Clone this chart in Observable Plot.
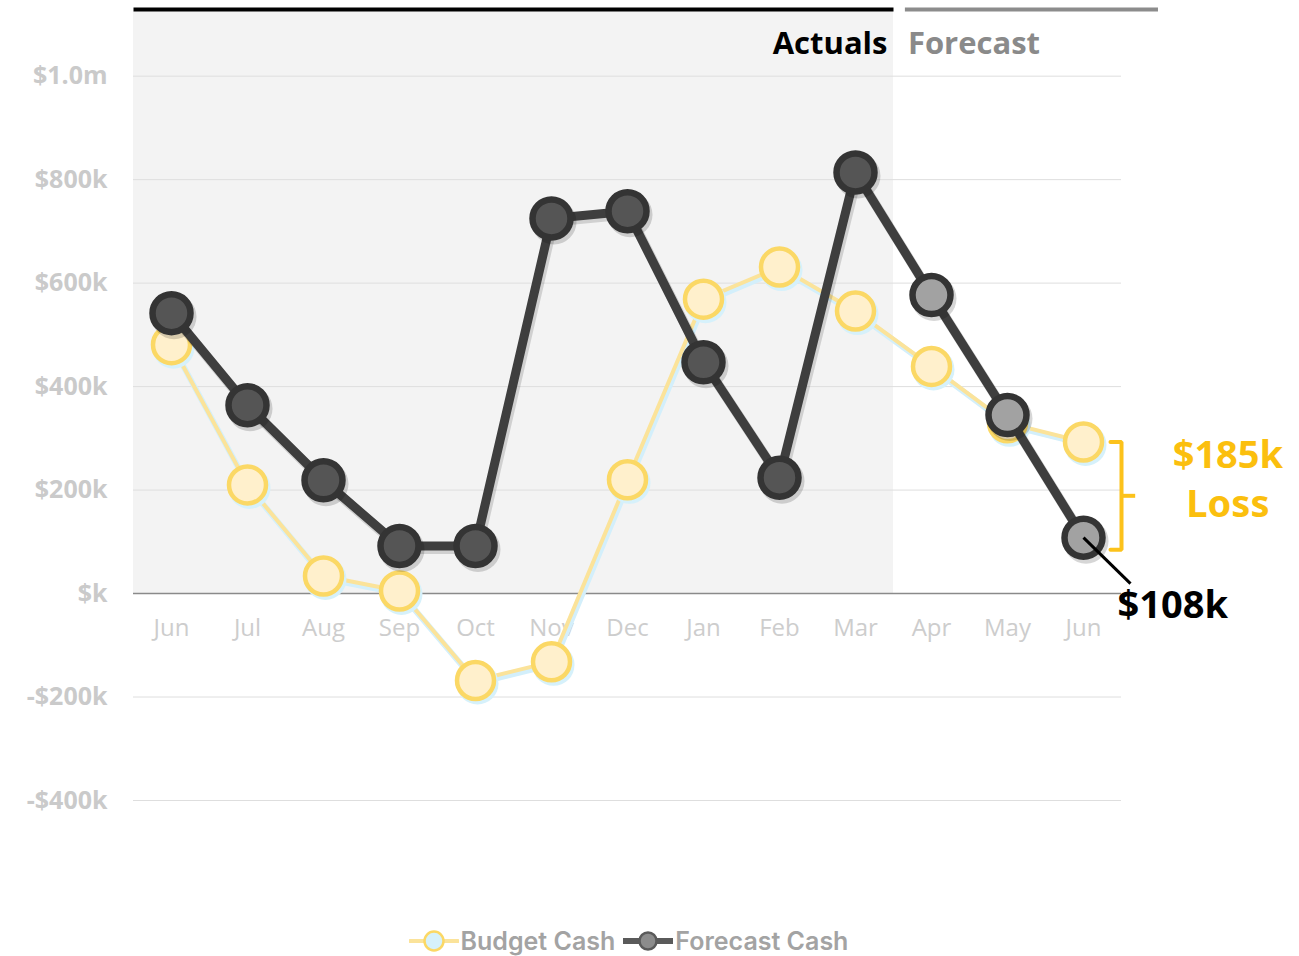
<!DOCTYPE html>
<html>
<head>
<meta charset="utf-8">
<script src="https://cdn.jsdelivr.net/npm/d3@7"></script>
<script src="https://cdn.jsdelivr.net/npm/@observablehq/plot@0.6"></script>
<style>
  html, body { margin: 0; padding: 0; background: #ffffff; }
  #chart svg { display: block; }
  #legend {
    height: 46px; display: flex; align-items: center; justify-content: center;
    font-family: "Inter", "Noto Sans", sans-serif; font-weight: 600; font-size: 25px;
    color: #a3a3a3; transform: translateX(-21px);
  }
  #legend .item { display: flex; align-items: center; }
  #legend svg { display: block; margin-right: 2px; }
</style>
</head>
<body>
<div id="chart"></div>
<div id="legend"></div>
<script>
// ---- data ----
const months = ["Jun","Jul","Aug","Sep","Oct","Nov","Dec","Jan","Feb","Mar","Apr","May","Jun"];
const budgetCash   = [481000, 210000, 34000, 5000, -168000, -132000, 220000, 569000, 631000, 546000, 439000, 330000, 293000];
const forecastCash = [542000, 364000, 219000, 92000, 92000, 725000, 739000, 447000, 224000, 814000, 577000, 345000, 108000];
const actualMonths = 10; // Jun..Mar are actuals, Apr..Jun forecast
const yTicks = [-400000, -200000, 0, 200000, 400000, 600000, 800000, 1000000];
const phaseLabels = ["Actuals", "Forecast"];
const seriesNames = ["Budget Cash", "Forecast Cash"];

// ---- layout ----
const W = 1299, H = 918;
const mTop = 11, mBottom = 118, mLeft = 133, mRight = 178;
const yDomain = [-400000, 1125000];
const perPx = (yDomain[1] - yDomain[0]) / (H - mBottom - mTop);
const last = months.length - 1;

const rows = months.map((m, i) => ({
  i, month: m, budget: budgetCash[i], forecast: forecastCash[i], actual: i < actualMonths
}));

const phases = [
  {label: phaseLabels[0], start: -0.5, end: actualMonths - 0.5, color: "#000000", width: 4},
  {label: phaseLabels[1], start: actualMonths - 0.35, end: last + 0.98, color: "#8c8c8c", width: 4}
];

const fmtY = d => d === 0 ? "$k" : Math.abs(d) >= 1e6 ? (d < 0 ? "-" : "") + "$" + (Math.abs(d) / 1e6).toFixed(1) + "m"
  : (d < 0 ? "-" : "") + "$" + Math.abs(d / 1000) + "k";

const lossTop = budgetCash[last];
const lossBottom = forecastCash[last] - 12 * perPx;
const lossMid = (lossTop + lossBottom) / 2;
const lossValue = Math.round((budgetCash[last] - forecastCash[last]) / 1000);
const bracket = [
  {x: last + 0.355, y: lossTop}, {x: last + 0.5, y: lossTop},
  {x: last + 0.5, y: lossBottom}, {x: last + 0.355, y: lossBottom}
];

const numFont = "'Noto Sans', 'Open Sans', sans-serif";
const axisFont = "'Open Sans', Lato, sans-serif";

const chart = Plot.plot({
  width: W, height: H,
  marginTop: mTop, marginBottom: mBottom, marginLeft: mLeft, marginRight: mRight,
  x: {domain: [-0.5, last + 0.5], axis: null},
  y: {domain: yDomain, axis: null},
  style: {background: "#ffffff", overflow: "visible"},
  marks: [
    // actuals background
    Plot.rect([phases[0]], {x1: "start", x2: "end", y1: 0, y2: yDomain[1], fill: "#f3f3f3"}),
    // grid
    Plot.ruleY(yTicks.filter(d => d !== 0), {stroke: "#dedede", strokeWidth: 1}),
    Plot.ruleY([0], {stroke: "#8a8a8a", strokeWidth: 1.6}),
    // y labels
    Plot.axisY(yTicks, {anchor: "left", tickSize: 0, tickPadding: 26, tickFormat: fmtY, label: null,
      fontSize: 25, fontWeight: 700, fill: "#cacaca", fontFamily: axisFont, letterSpacing: 1}),
    // month labels
    Plot.text(rows, {x: "i", y: 0, dy: 35, text: "month", fontSize: 24, fontWeight: 500, fill: "#cdcdcd",
      fontFamily: "'Open Sans', 'Noto Sans', sans-serif"}),
    // phase header
    Plot.link(phases, {x1: "start", x2: "end", y1: yDomain[1], y2: yDomain[1], dy: -2,
      stroke: "color", strokeWidth: "width"}),
    Plot.text([phases[0]], {x: "end", y: yDomain[1], dx: -6, dy: 33, text: "label", textAnchor: "end",
      fontSize: 31, fontWeight: 700, fill: "#000000", fontFamily: axisFont, letterSpacing: 0.6}),
    Plot.text([phases[1]], {x: "start", y: yDomain[1], dx: 3, dy: 33, text: "label", textAnchor: "start",
      fontSize: 31, fontWeight: 700, fill: "#8a8a8a", fontFamily: axisFont, letterSpacing: 0.6}),
    // budget series
    Plot.line(rows, {x: "i", y: "budget", stroke: "#d3effb", strokeWidth: 6, dx: 1.5, dy: 2.5}),
    Plot.line(rows, {x: "i", y: "budget", stroke: "#fbe39a", strokeWidth: 4}),
    Plot.dot(rows, {x: "i", y: "budget", r: 21, fill: "#d6f1fb", dx: 2, dy: 3}),
    Plot.dot(rows, {x: "i", y: "budget", r: 18.5, fill: "#fff0cc", stroke: "#fbd865", strokeWidth: 4.5}),
    // forecast series
    Plot.line(rows, {x: "i", y: "forecast", stroke: "rgba(0,0,0,0.14)", strokeWidth: 10, dx: 2, dy: 3}),
    Plot.line(rows, {x: "i", y: "forecast", stroke: "#3e3e3e", strokeWidth: 9}),
    Plot.dot(rows, {x: "i", y: "forecast", r: 22.5, fill: "rgba(0,0,0,0.16)", dx: 2.5, dy: 3.5}),
    Plot.dot(rows, {x: "i", y: "forecast", r: 19, fill: d => d.actual ? "#555555" : "#a2a2a2",
      stroke: "#343434", strokeWidth: 6.5}),
    // loss bracket
    Plot.line(bracket, {x: "x", y: "y", stroke: "#fcc21b", strokeWidth: 4, strokeLinejoin: "miter"}),
    Plot.link([lossMid], {x1: last + 0.5, x2: last + 0.68, y1: d => d, y2: d => d, stroke: "#fcc21b", strokeWidth: 4}),
    Plot.text([lossMid], {x: last + 1.9, y: d => d, dy: -19, text: () => "$" + lossValue + "k\nLoss",
      lineHeight: 1.3, fontSize: 38, fontWeight: 700, fill: "#fbbf0e", fontFamily: numFont, letterSpacing: 0.6}),
    // last value callout
    Plot.link([forecastCash[last]], {x1: last, y1: d => d, x2: last + 47 / 76, y2: d => d - 46 * perPx,
      stroke: "#000000", strokeWidth: 3}),
    Plot.text([forecastCash[last]], {x: last, y: d => d, dx: 34, dy: 68, text: d => "$" + Math.round(d / 1000) + "k",
      textAnchor: "start", fontSize: 38, fontWeight: 700, fill: "#000000", fontFamily: numFont, letterSpacing: 0.6})
  ]
});
document.getElementById("chart").appendChild(chart);

// legend
const legend = d3.select("#legend");
const sw = [
  {name: seriesNames[0], line: "#fbe39a", lw: 4, fill: "#d6f1fb", stroke: "#fbd865", r: 9.5},
  {name: seriesNames[1], line: "#5a5a5a", lw: 6, fill: "#8c8c8c", stroke: "#5a5a5a", r: 8.5}
];
sw.forEach((s, k) => {
  const it = legend.append("div").attr("class", "item").style("margin-left", k ? "8px" : "0px");
  const svg = it.append("svg").attr("width", 50).attr("height", 26);
  svg.append("line").attr("x1", 1).attr("x2", 49).attr("y1", 13).attr("y2", 13)
    .attr("stroke", s.line).attr("stroke-width", s.lw).attr("stroke-linecap", "round");
  svg.append("circle").attr("cx", 25).attr("cy", 13).attr("r", s.r)
    .attr("fill", s.fill).attr("stroke", s.stroke).attr("stroke-width", 2.5);
  it.append("span").text(s.name);
});
</script>
</body>
</html>
